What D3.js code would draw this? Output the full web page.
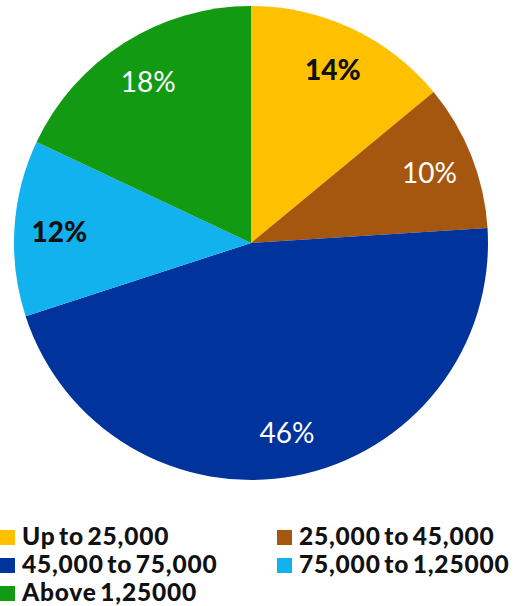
<!DOCTYPE html>
<html>
<head>
<meta charset="utf-8">
<script src="https://cdn.jsdelivr.net/npm/d3@7"></script>
<style>
  html, body { margin: 0; padding: 0; background: #ffffff; }
  svg { display: block; }
</style>
</head>
<body>
<svg id="chart" width="529" height="606"></svg>
<script>
// Income bands and their share of households (%)
const categories = ["Up to 25,000", "25,000 to 45,000", "45,000 to 75,000", "75,000 to 1,25000", "Above 1,25000"];
const shares = [14, 10, 46, 12, 18];
const colors = ["#FFC000", "#A5560F", "#00339C", "#12B2EE", "#139A13"];

const svg = d3.select("#chart");
const cx = 251, cy = 243, radius = 237;

const pie = d3.pie().sort(null).value(d => d.value);
const arcs = pie(categories.map((c, i) => ({ name: c, value: shares[i], color: colors[i] })));

const arc = d3.arc().innerRadius(0).outerRadius(radius);
const labelArc = d3.arc().innerRadius(radius * 0.81).outerRadius(radius * 0.81);

const g = svg.append("g").attr("transform", `translate(${cx},${cy})`);

g.selectAll("path.slice")
  .data(arcs)
  .join("path")
  .attr("class", "slice")
  .attr("d", arc)
  .attr("fill", d => d.data.color);

// Light slices get bold dark labels, dark slices get white labels
const isLight = c => d3.lab(c).l > 60;

g.selectAll("text.pct")
  .data(arcs)
  .join("text")
  .attr("class", "pct")
  .attr("transform", d => `translate(${labelArc.centroid(d)})`)
  .attr("text-anchor", "middle")
  .attr("dominant-baseline", "central")
  .attr("font-family", "Lato, 'Open Sans', sans-serif")
  .attr("font-size", 28)
  .attr("font-weight", d => isLight(d.data.color) ? 900 : 400)
  .attr("fill", d => isLight(d.data.color) ? "#111111" : "#ffffff")
  .text(d => d.data.value + "%");

// Legend: two columns, filled row by row
const legend = svg.append("g").attr("transform", "translate(0,530)");
const colX = [0, 277], rowH = 28, sw = 15;

const items = legend.selectAll("g.item")
  .data(arcs.map(a => a.data))
  .join("g")
  .attr("class", "item")
  .attr("transform", (d, i) => `translate(${colX[i % 2]},${Math.floor(i / 2) * rowH})`);

items.append("rect")
  .attr("x", 0).attr("y", 0)
  .attr("width", sw).attr("height", sw)
  .attr("fill", d => d.color);

items.append("text")
  .attr("x", sw + 7)
  .attr("y", sw)
  .attr("font-family", "Lato, 'Open Sans', sans-serif")
  .attr("font-size", 24.5)
  .attr("font-weight", 900)
  .attr("letter-spacing", 0.8)
  .attr("word-spacing", -3)
  .attr("fill", "#111111")
  .text(d => d.name);
</script>
</body>
</html>
